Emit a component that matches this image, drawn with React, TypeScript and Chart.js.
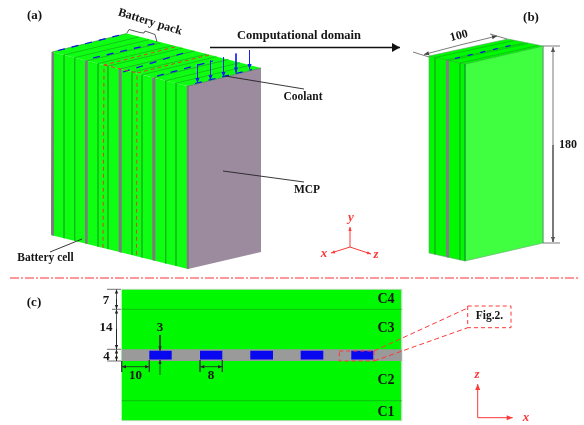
import React, { useEffect, useRef } from "react";
import { Chart, registerables } from "chart.js";

Chart.register(...registerables);

type P = number[];

// ---- Panel (a): battery pack ----
const packTop: P[] = [[52, 52], [127, 33.5], [261, 68], [187, 86]];
const packFront: P[] = [[52, 52], [187, 86], [188, 269], [51, 235]];
const packSide: P[] = [[187, 86], [261, 68], [261, 252], [188, 269]];
const packBands: P[][] = [
  [[51.5, 52], [54, 52.5], [54, 235.7], [51, 235]],
  [[85, 60.3], [87.7, 61], [87.7, 244.1], [85, 243.4]],
  [[118.7, 68.8], [121.7, 69.6], [121.7, 252.8], [118.7, 252.1]],
  [[152.3, 77.3], [155.3, 78], [155.3, 260.9], [152.3, 260.1]],
  [[186.7, 86], [189, 85.6], [189, 268.8], [186.7, 268.7]],
];
const packCellLines: P[][] = [
  [[138.5, 37], [64, 55], [64, 238.2]],
  [[149, 39.7], [74.7, 57.7], [74.7, 240.9]],
  [[172.5, 45.6], [98, 63.6], [98, 246.7]],
  [[182.5, 48.1], [108, 66.1], [108, 249.1]],
  [[206.5, 54.2], [132, 72.2], [132, 255]],
  [[216.5, 56.7], [142, 74.7], [142, 257.5]],
  [[240, 62.7], [165.7, 80.7], [165.7, 263.5]],
  [[250.5, 65.2], [176, 83.2], [176, 266]],
];
const packTopEdges: P[][] = [
  [[52, 52], [127, 33.5]],
  [[86, 61], [160.5, 43]],
  [[120, 69], [194.5, 51]],
  [[154, 77.5], [228.5, 59.5]],
  [[188, 86], [261, 68]],
];
const packCoolant: P[][] = [
  [[58, 50.5], [120, 35]],
  [[93, 58], [157, 43]],
  [[123, 72], [187, 52]],
  [[157, 76], [213, 61]],
  [[195, 83.5], [252, 69.5]],
];
const packRedDash: P[][] = [
  [[175, 47], [104, 65], [103, 248]],
  [[209, 55], [137, 73], [136.5, 256]],
  [[104, 65], [137, 73]],
];
const coolantArrows: P[][] = [
  [[197.5, 64], [197.5, 83]],
  [[210.5, 60.5], [210.5, 80]],
  [[223.5, 57], [223.5, 77]],
  [[236, 53.5], [236, 72.5]],
  [[249.5, 50], [249.5, 69]],
];
const brace: P[] = [[127, 33], [129, 29.5], [140, 32.5], [144, 33], [145, 31], [155, 34.5], [157, 42]];
const leaders: P[][] = [
  [[225, 76], [304, 89]],
  [[223, 171], [304, 182]],
  [[50, 252], [82, 239]],
];
const domainArrow: P[] = [[210, 47.5], [400, 47.5]];

// ---- Panel (b): computational domain ----
const cellTop: P[] = [[429, 56], [508, 39], [543, 46], [465, 64]];
const cellFront: P[] = [[429, 56], [465, 64], [465, 261], [429, 253]];
const cellSide: P[] = [[465, 64], [543, 46], [543, 243], [465, 261]];
const cellBand: P[] = [[446, 60], [449, 60.7], [449, 257.7], [446, 257]];
const cellLines: P[][] = [
  [[514, 40.5], [435, 57.5], [435, 254.5]],
  [[524, 43], [446, 60]],
  [[528, 43.5], [449, 60.7]],
  [[538, 45.5], [460, 63], [460, 260]],
];
const cellOutline: P[] = [[429, 56], [508, 39], [543, 46], [543, 243], [465, 261], [429, 253], [429, 56]];
const cellEdge: P[] = [[465, 64], [465, 261]];
const cellRim: P[] = [[429, 56], [465, 64], [543, 46]];
const cellCoolant: P[] = [[455, 58.5], [517, 44]];
const widthDim: P[][] = [
  [[413, 52], [429, 57]],
  [[490, 34], [507, 39]],
];
const heightDim: P[][] = [
  [[543, 46], [560, 46]],
  [[543, 243], [560, 243]],
];
const widthArrows: P[][] = [
  [[460, 45], [424, 54.5]],
  [[460, 45], [497, 36]],
];
const heightArrows: P[][] = [
  [[553, 145], [553, 47]],
  [[553, 145], [553, 242]],
];

// ---- Separator ----
const separator: P[] = [[10, 278], [578, 278]];

// ---- Axes triads ----
const triadA: P[][] = [
  [[350, 247], [350, 227]],
  [[350, 247], [331, 253]],
  [[350, 247], [371, 254]],
];
const triadC: P[][] = [
  [[477.7, 417.7], [477.7, 384]],
  [[477.7, 417.7], [512.7, 417.7]],
];

// ---- Panel (c): section ----
const sectionPlate: P[] = [[121.7, 289.3], [401.7, 289.3], [401.7, 420.7], [121.7, 420.7]];
const sectionBand: P[] = [[121.7, 349.3], [401.7, 349.3], [401.7, 361], [121.7, 361]];
const sectionChannels: P[][] = [
  [[149.3, 350.8], [171.7, 350.8], [171.7, 359.4], [149.3, 359.4]],
  [[200, 350.8], [222.3, 350.8], [222.3, 359.4], [200, 359.4]],
  [[250.3, 350.8], [273, 350.8], [273, 359.4], [250.3, 359.4]],
  [[300.7, 350.8], [323.3, 350.8], [323.3, 359.4], [300.7, 359.4]],
  [[351.3, 350.8], [373.3, 350.8], [373.3, 359.4], [351.3, 359.4]],
];
const sectionLines: P[][] = [
  [[121.7, 309.3], [401.7, 309.3]],
  [[121.7, 400.7], [401.7, 400.7]],
];
const dimTicks: P[][] = [
  [[107, 289.3], [121, 289.3]],
  [[112, 309.3], [121, 309.3]],
  [[107, 349.3], [121, 349.3]],
  [[107, 361], [121, 361]],
  [[121.7, 361], [121.7, 372]],
  [[149.3, 360], [149.3, 372]],
  [[200, 360], [200, 372]],
  [[222.3, 360], [222.3, 372]],
];
const dimArrows: P[][] = [
  [[116.5, 299], [116.5, 289.5]],
  [[116.5, 299], [116.5, 309]],
  [[116.5, 329], [116.5, 309.6]],
  [[116.5, 329], [116.5, 349]],
  [[116.5, 355], [116.5, 349.5]],
  [[116.5, 355], [116.5, 360.8]],
  [[160, 335], [160, 350.5]],
  [[160, 375], [160, 359.8]],
  [[135, 366.7], [122, 366.7]],
  [[135, 366.7], [149, 366.7]],
  [[211, 366.7], [200.3, 366.7]],
  [[211, 366.7], [222, 366.7]],
];
const zoomRect: P[] = [[339.3, 351], [374, 351], [374, 361], [339.3, 361], [339.3, 351]];
const figBox: P[] = [[467.7, 306], [511, 306], [511, 327.7], [467.7, 327.7], [467.7, 306]];
const zoomRays: P[][] = [
  [[374, 351], [467.7, 308]],
  [[374, 361], [467.7, 327.7]],
];

// ---- Text ----
const labelText = ["(a)", "(b)", "(c)", "Battery pack", "Computational domain", "Coolant", "MCP", "Battery cell", "100", "180", "7", "14", "4", "3", "10", "8", "C4", "C3", "C2", "C1", "Fig.2."];
const labelX = [34.5, 531, 34, 150, 299, 303, 307, 45.5, 459, 568, 106, 106, 106.5, 160, 135.5, 211, 386, 386, 386, 386, 489.5];
const labelY = [16, 18, 303, 22, 36, 97, 190, 258, 36, 145, 300.5, 328, 356.5, 328, 375.5, 375.5, 299, 328, 380, 412, 316];
const labelSize = [13, 13, 13, 12, 12.5, 11.5, 11.5, 11.5, 12, 12, 13, 13, 13, 13, 13, 13, 14, 14, 14, 14, 11.5];
const labelAngle = [0, 0, 0, 17, 0, 0, 0, 0, -15, 0, 0, 0, 0, 0, 0, 0, 0, 0, 0, 0, 0];
const axisText = ["y", "x", "z", "z", "x"];
const axisX = [351, 324, 376, 477, 526];
const axisY = [218, 254, 255, 375, 418];

const GREEN = "#0fff12";
const PURE = "#00f800";
const LIGHT = "#40ff40";
const GREY = "#808080";
const LINE = "#12b81a";
const BLUE = "#0a10e8";
const RED = "#ff3838";
const INK = "#151515";

type Style = { fill?: string; stroke?: string; width?: number; dash?: number[] };

const poly = (pts: P[], s: Style) => ({
  type: "line" as const,
  data: pts.map(([x, y]) => ({ x, y })),
  backgroundColor: s.fill ?? "transparent",
  borderColor: s.stroke ?? s.fill ?? "transparent",
  borderWidth: s.width ?? (s.stroke ? 1 : 0),
  borderDash: s.dash ?? [],
  fill: s.fill ? "shape" : false,
  pointRadius: 0,
  tension: 0,
  clip: false as const,
});

// A line with a head at its last point; the head is built from the line's own values.
const arrow = (pts: P[], head: number, color: string, width: number, spread = 0.42) => {
  const [a, b] = [pts[0], pts[pts.length - 1]];
  const len = Math.hypot(b[0] - a[0], b[1] - a[1]) || 1;
  const ux = (b[0] - a[0]) / len;
  const uy = (b[1] - a[1]) / len;
  const tri: P[] = [
    b,
    [b[0] - ux * head - uy * head * spread, b[1] - uy * head + ux * head * spread],
    [b[0] - ux * head + uy * head * spread, b[1] - uy * head - ux * head * spread],
  ];
  return [poly(pts, { stroke: color, width }), poly(tri, { fill: color })];
};

const many = (list: P[][], s: Style) => list.map((p) => poly(p, s));
const arrows = (list: P[][], head: number, color: string, width: number) =>
  list.flatMap((p) => arrow(p, head, color, width));

const buildDatasets = () => {
  // Painted back to front.
  const layers = [
    poly(packTop, { fill: GREEN }),
    poly(packFront, { fill: GREEN }),
    poly(packSide, { fill: "#9c8a9e" }),
    ...many(packBands, { fill: "#7c7c7c" }),
    ...many(packCellLines, { stroke: LINE, width: 0.8 }),
    ...many(packTopEdges, { stroke: "#209a30", width: 0.7 }),
    ...many(packCoolant, { stroke: BLUE, width: 1.2, dash: [7, 7] }),
    ...many(packRedDash, { stroke: "#f03020", width: 0.9, dash: [4, 3] }),
    ...arrows(coolantArrows, 5, "#1420f0", 0.9),
    poly(brace, { stroke: "#333333", width: 0.8 }),
    ...many(leaders, { stroke: "#222222", width: 0.9 }),
    ...arrow(domainArrow, 8, "#111111", 1.4, 0.55),

    poly(cellTop, { fill: PURE }),
    poly(cellFront, { fill: PURE }),
    poly(cellSide, { fill: LIGHT }),
    poly(cellBand, { fill: GREY }),
    ...many(cellLines, { stroke: LINE, width: 0.8 }),
    poly(cellRim, { stroke: LINE, width: 0.7 }),
    poly(cellEdge, { stroke: "#0fa82a", width: 0.8 }),
    poly(cellOutline, { stroke: "#5aa868", width: 0.6 }),
    poly(cellCoolant, { stroke: BLUE, width: 1.2, dash: [5, 8] }),
    ...many(widthDim, { stroke: "#444444", width: 0.7 }),
    ...many(heightDim, { stroke: "#444444", width: 0.7 }),
    ...arrows(widthArrows, 5, "#444444", 0.7),
    ...arrows(heightArrows, 5, "#555555", 0.8),

    poly(separator, { stroke: "#ff3030", width: 1, dash: [9, 2, 2, 2] }),
    ...arrows(triadA, 4, RED, 1),
    ...arrows(triadC, 6, RED, 1),

    poly(sectionPlate, { fill: PURE, stroke: "#c8d8c8", width: 0.8 }),
    poly(sectionBand, { fill: "#9a9a9a" }),
    ...many(sectionChannels, { fill: "#0808f0" }),
    ...many(sectionLines, { stroke: "#0fa815", width: 0.7 }),
    ...many(dimTicks, { stroke: "#333333", width: 0.7 }),
    ...arrows(dimArrows, 4, "#222222", 0.8),
    poly(zoomRect, { stroke: RED, width: 1, dash: [4, 3] }),
    poly(figBox, { stroke: RED, width: 1, dash: [4, 3] }),
    ...many(zoomRays, { stroke: RED, width: 1, dash: [5, 3] }),
  ];
  return layers.map((d, i) => ({ ...d, order: layers.length - i }));
};

const textPlugin = {
  id: "diagramText",
  afterDraw(chart: any) {
    const { ctx, scales } = chart;
    const put = (t: string, x: number, y: number, font: string, color: string, deg: number) => {
      ctx.save();
      ctx.translate(scales.x.getPixelForValue(x), scales.y.getPixelForValue(y));
      ctx.rotate((deg * Math.PI) / 180);
      ctx.font = font;
      ctx.fillStyle = color;
      ctx.textAlign = "center";
      ctx.textBaseline = "middle";
      ctx.fillText(t, 0, 0);
      ctx.restore();
    };
    labelText.forEach((t, i) =>
      put(t, labelX[i], labelY[i], `bold ${labelSize[i]}px "Liberation Serif"`, INK, labelAngle[i])
    );
    axisText.forEach((t, i) =>
      put(t, axisX[i], axisY[i], `italic bold 13px "Liberation Serif"`, RED, 0)
    );
  },
};

export default function App() {
  const ref = useRef<HTMLCanvasElement>(null);
  useEffect(() => {
    if (!ref.current) return;
    const chart = new Chart(ref.current, {
      type: "scatter",
      data: { datasets: buildDatasets() as any },
      options: {
        animation: false,
        responsive: false,
        layout: { padding: 0 },
        plugins: { legend: { display: false }, tooltip: { enabled: false } },
        scales: {
          x: { type: "linear", min: 0, max: 584, display: false },
          y: { type: "linear", min: 0, max: 425, reverse: true, display: false },
        },
      },
      plugins: [textPlugin],
    });
    return () => chart.destroy();
  }, []);
  return (
    <div style={{ position: "absolute", left: 0, top: 0, width: 584, height: 425, background: "#fff" }}>
      <canvas ref={ref} width={584} height={425} style={{ display: "block", filter: "blur(0.6px)" }} />
    </div>
  );
}
